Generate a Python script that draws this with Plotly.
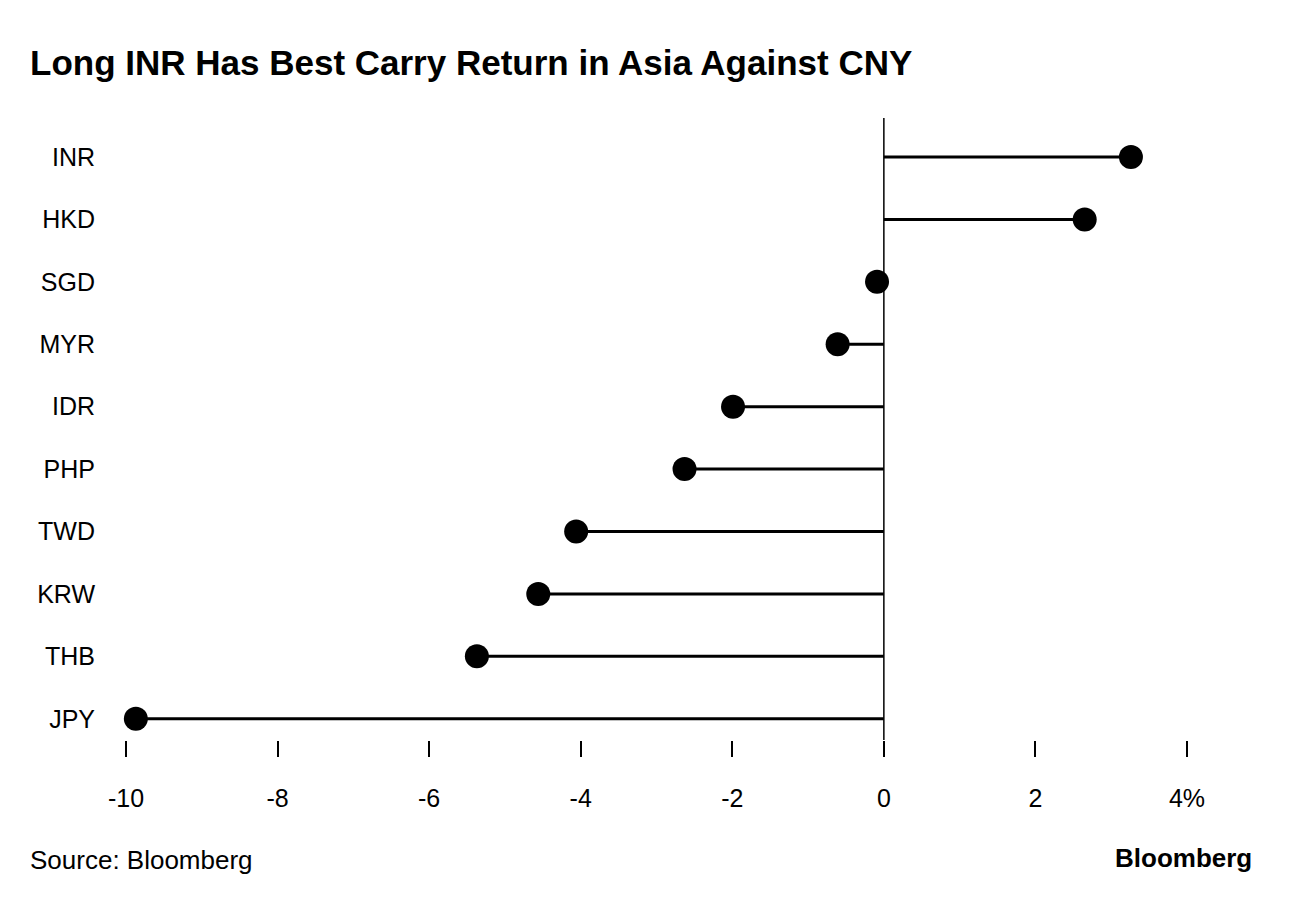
import plotly.graph_objects as go

currencies = ["INR", "HKD", "SGD", "MYR", "IDR", "PHP", "TWD", "KRW", "THB", "JPY"]
returns = [3.26, 2.65, -0.09, -0.61, -1.99, -2.63, -4.06, -4.56, -5.37, -9.87]
tick_vals = [-10, -8, -6, -4, -2, 0, 2, 4]
tick_text = ["-10", "-8", "-6", "-4", "-2", "0", "2", "4%"]

fig = go.Figure()
for c, v in zip(currencies, returns):
    fig.add_trace(go.Scatter(x=[0, v], y=[c, c], mode="lines",
                             line=dict(color="black", width=3), hoverinfo="skip"))
fig.add_trace(go.Scatter(x=returns, y=currencies, mode="markers",
                         marker=dict(color="black", size=24), cliponaxis=False))
fig.add_shape(type="line", x0=0, x1=0, xref="x", y0=0, y1=1, yref="paper",
              line=dict(color="black", width=1.5))

OFF = 8
W, H = 1293, 902
L, R, T, B = 126 - OFF, 106 + OFF, 118 - OFF, 162 + OFF
font = "Liberation Sans, Arial, sans-serif"
pw, ph = W - L - R, H - T - B

def px(x, y):
    return (x - OFF - L) / pw, (H - B - (y - OFF)) / ph

ann = []
for text, x, y, xa, size in [
    ("<b>Long INR Has Best Carry Return in Asia Against CNY</b>", 28, 62, "left", 35),
    ("Source: Bloomberg", 28, 860, "left", 26),
    ("<b>Bloomberg</b>", 1254, 858, "right", 26),
]:
    ax, ay = px(x, y)
    ann.append(dict(text=text, x=ax, y=ay, xref="paper", yref="paper", showarrow=False,
                    xanchor=xa, yanchor="middle", font=dict(size=size)))

fig.update_layout(
    width=W, height=H, showlegend=False,
    plot_bgcolor="white", paper_bgcolor="white",
    margin=dict(l=L, r=R, t=T, b=B),
    font=dict(family=font, color="black", size=25),
    xaxis=dict(range=[-10, 4], tickvals=tick_vals, ticktext=tick_text,
               showgrid=False, zeroline=False, ticks="outside", ticklen=16,
               tickcolor="black", tickwidth=1.5, showline=False,
               tickfont=dict(size=25), ticklabelstandoff=20),
    yaxis=dict(categoryorder="array", categoryarray=currencies,
               range=[9.34, -0.625], showgrid=False, zeroline=False,
               ticks="", ticklabelstandoff=30, tickfont=dict(size=25)),
    annotations=ann,
)
fig.write_html("out.html")
